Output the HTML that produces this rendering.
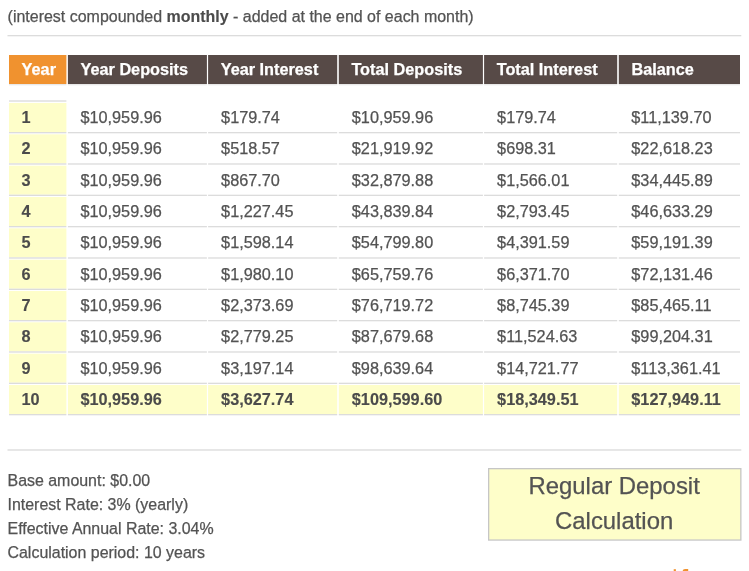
<!DOCTYPE html>
<html lang="en">
<head>
<meta charset="utf-8">
<title>Regular Deposit Calculation</title>
<style>
html,body{margin:0;padding:0;background:#fff;}
body{-webkit-text-stroke:0.25px;width:749px;height:571px;overflow:hidden;position:relative;font-family:"Liberation Sans",Arial,Helvetica,sans-serif;color:#535353;font-size:16px;}
svg.bg{position:absolute;left:0;top:0;width:749px;height:571px;display:block;}
.note{position:absolute;left:7.6px;top:7px;margin:0;font-size:15.98px;line-height:20px;white-space:nowrap;color:#535353;}
.note b{color:#4b4b4b;-webkit-text-stroke:0.12px;}
table,thead,tbody{display:block;margin:0;padding:0;border:0;}
table{position:absolute;left:0;top:0;width:749px;height:420px;font-size:16.27px;}
tr{display:block;position:absolute;left:0;width:749px;height:31px;}
th,td{display:block;position:absolute;top:0;box-sizing:border-box;padding:0 0 0 13px;text-align:left;white-space:nowrap;overflow:hidden;height:30.33px;line-height:29.33px;font-weight:normal;color:#535353;}
td.c2,td.c6{padding-left:12.5px;}
tr.head{top:55px;height:30px;}
tr.head th{color:#fff;font-weight:bold;height:30px;line-height:29px;padding-left:12.6px;}
tbody th{font-weight:bold;color:#4b4b4b;padding-left:12.4px;-webkit-text-stroke:0.12px;}
tr.last td{font-weight:bold;color:#4b4b4b;-webkit-text-stroke:0.12px;}
.info{position:absolute;left:7.5px;top:469px;font-size:15.95px;line-height:24px;color:#535353;}
.info div{white-space:nowrap;}
.box{position:absolute;left:487.4px;top:469px;width:253.5px;height:71px;text-align:center;font-size:23.9px;line-height:34.7px;color:#535353;box-sizing:border-box;padding-top:0;}
.c1{left:9px;width:57.4px;}
.c2{left:67.9px;width:139px;}
.c3{left:208.1px;width:129.1px;}
.c4{left:338.8px;width:144.1px;}
.c5{left:484.1px;width:133.1px;}
.c6{left:618.8px;width:121.2px;}
</style>
</head>
<body>
<svg class="bg" width="749" height="571" viewBox="0 0 749 571" aria-hidden="true">
<rect x="7.5" y="35" width="733.8" height="1.33" fill="#dcdcdc"/>
<rect x="7.5" y="449.3" width="733.8" height="1.37" fill="#dcdcdc"/>
<rect x="9" y="55" width="57.4" height="29" fill="#f0922f"/>
<rect x="9" y="84" width="57.4" height="1.33" fill="#e9e9e9"/>
<rect x="67.9" y="55" width="139" height="29" fill="#574a47"/>
<rect x="67.9" y="84" width="139" height="1.33" fill="#e9e9e9"/>
<rect x="208.1" y="55" width="129.1" height="29" fill="#574a47"/>
<rect x="208.1" y="84" width="129.1" height="1.33" fill="#e9e9e9"/>
<rect x="338.8" y="55" width="144.1" height="29" fill="#574a47"/>
<rect x="338.8" y="84" width="144.1" height="1.33" fill="#e9e9e9"/>
<rect x="484.1" y="55" width="133.1" height="29" fill="#574a47"/>
<rect x="484.1" y="84" width="133.1" height="1.33" fill="#e9e9e9"/>
<rect x="618.8" y="55" width="121.2" height="29" fill="#574a47"/>
<rect x="618.8" y="84" width="121.2" height="1.33" fill="#e9e9e9"/>
<rect x="9" y="100.33" width="57.4" height="1.34" fill="#dcdcdc"/>
<rect x="9" y="103" width="57.4" height="29" fill="#fefec9"/>
<rect x="9" y="132" width="57.4" height="1.33" fill="#dcdcdc"/>
<rect x="67.9" y="132" width="139" height="1.33" fill="#dcdcdc"/>
<rect x="208.1" y="132" width="129.1" height="1.33" fill="#dcdcdc"/>
<rect x="338.8" y="132" width="144.1" height="1.33" fill="#dcdcdc"/>
<rect x="484.1" y="132" width="133.1" height="1.33" fill="#dcdcdc"/>
<rect x="618.8" y="132" width="121.2" height="1.33" fill="#dcdcdc"/>
<rect x="9" y="134.33" width="57.4" height="29" fill="#fefec9"/>
<rect x="9" y="163.33" width="57.4" height="1.33" fill="#dcdcdc"/>
<rect x="67.9" y="163.33" width="139" height="1.33" fill="#dcdcdc"/>
<rect x="208.1" y="163.33" width="129.1" height="1.33" fill="#dcdcdc"/>
<rect x="338.8" y="163.33" width="144.1" height="1.33" fill="#dcdcdc"/>
<rect x="484.1" y="163.33" width="133.1" height="1.33" fill="#dcdcdc"/>
<rect x="618.8" y="163.33" width="121.2" height="1.33" fill="#dcdcdc"/>
<rect x="9" y="165.67" width="57.4" height="29" fill="#fefec9"/>
<rect x="9" y="194.67" width="57.4" height="1.33" fill="#dcdcdc"/>
<rect x="67.9" y="194.67" width="139" height="1.33" fill="#dcdcdc"/>
<rect x="208.1" y="194.67" width="129.1" height="1.33" fill="#dcdcdc"/>
<rect x="338.8" y="194.67" width="144.1" height="1.33" fill="#dcdcdc"/>
<rect x="484.1" y="194.67" width="133.1" height="1.33" fill="#dcdcdc"/>
<rect x="618.8" y="194.67" width="121.2" height="1.33" fill="#dcdcdc"/>
<rect x="9" y="197" width="57.4" height="29" fill="#fefec9"/>
<rect x="9" y="226" width="57.4" height="1.33" fill="#dcdcdc"/>
<rect x="67.9" y="226" width="139" height="1.33" fill="#dcdcdc"/>
<rect x="208.1" y="226" width="129.1" height="1.33" fill="#dcdcdc"/>
<rect x="338.8" y="226" width="144.1" height="1.33" fill="#dcdcdc"/>
<rect x="484.1" y="226" width="133.1" height="1.33" fill="#dcdcdc"/>
<rect x="618.8" y="226" width="121.2" height="1.33" fill="#dcdcdc"/>
<rect x="9" y="228.33" width="57.4" height="29" fill="#fefec9"/>
<rect x="9" y="257.33" width="57.4" height="1.33" fill="#dcdcdc"/>
<rect x="67.9" y="257.33" width="139" height="1.33" fill="#dcdcdc"/>
<rect x="208.1" y="257.33" width="129.1" height="1.33" fill="#dcdcdc"/>
<rect x="338.8" y="257.33" width="144.1" height="1.33" fill="#dcdcdc"/>
<rect x="484.1" y="257.33" width="133.1" height="1.33" fill="#dcdcdc"/>
<rect x="618.8" y="257.33" width="121.2" height="1.33" fill="#dcdcdc"/>
<rect x="9" y="259.67" width="57.4" height="29" fill="#fefec9"/>
<rect x="9" y="288.67" width="57.4" height="1.33" fill="#dcdcdc"/>
<rect x="67.9" y="288.67" width="139" height="1.33" fill="#dcdcdc"/>
<rect x="208.1" y="288.67" width="129.1" height="1.33" fill="#dcdcdc"/>
<rect x="338.8" y="288.67" width="144.1" height="1.33" fill="#dcdcdc"/>
<rect x="484.1" y="288.67" width="133.1" height="1.33" fill="#dcdcdc"/>
<rect x="618.8" y="288.67" width="121.2" height="1.33" fill="#dcdcdc"/>
<rect x="9" y="291" width="57.4" height="29" fill="#fefec9"/>
<rect x="9" y="320" width="57.4" height="1.33" fill="#dcdcdc"/>
<rect x="67.9" y="320" width="139" height="1.33" fill="#dcdcdc"/>
<rect x="208.1" y="320" width="129.1" height="1.33" fill="#dcdcdc"/>
<rect x="338.8" y="320" width="144.1" height="1.33" fill="#dcdcdc"/>
<rect x="484.1" y="320" width="133.1" height="1.33" fill="#dcdcdc"/>
<rect x="618.8" y="320" width="121.2" height="1.33" fill="#dcdcdc"/>
<rect x="9" y="322.33" width="57.4" height="29" fill="#fefec9"/>
<rect x="9" y="351.33" width="57.4" height="1.33" fill="#dcdcdc"/>
<rect x="67.9" y="351.33" width="139" height="1.33" fill="#dcdcdc"/>
<rect x="208.1" y="351.33" width="129.1" height="1.33" fill="#dcdcdc"/>
<rect x="338.8" y="351.33" width="144.1" height="1.33" fill="#dcdcdc"/>
<rect x="484.1" y="351.33" width="133.1" height="1.33" fill="#dcdcdc"/>
<rect x="618.8" y="351.33" width="121.2" height="1.33" fill="#dcdcdc"/>
<rect x="9" y="353.67" width="57.4" height="29" fill="#fefec9"/>
<rect x="9" y="382.67" width="57.4" height="1.33" fill="#dcdcdc"/>
<rect x="67.9" y="382.67" width="139" height="1.33" fill="#dcdcdc"/>
<rect x="208.1" y="382.67" width="129.1" height="1.33" fill="#dcdcdc"/>
<rect x="338.8" y="382.67" width="144.1" height="1.33" fill="#dcdcdc"/>
<rect x="484.1" y="382.67" width="133.1" height="1.33" fill="#dcdcdc"/>
<rect x="618.8" y="382.67" width="121.2" height="1.33" fill="#dcdcdc"/>
<rect x="9" y="385" width="57.4" height="29" fill="#fefec9"/>
<rect x="9" y="414" width="57.4" height="1.33" fill="#dcdcdc"/>
<rect x="67.9" y="385" width="139" height="29" fill="#fefec9"/>
<rect x="67.9" y="414" width="139" height="1.33" fill="#dcdcdc"/>
<rect x="208.1" y="385" width="129.1" height="29" fill="#fefec9"/>
<rect x="208.1" y="414" width="129.1" height="1.33" fill="#dcdcdc"/>
<rect x="338.8" y="385" width="144.1" height="29" fill="#fefec9"/>
<rect x="338.8" y="414" width="144.1" height="1.33" fill="#dcdcdc"/>
<rect x="484.1" y="385" width="133.1" height="29" fill="#fefec9"/>
<rect x="484.1" y="414" width="133.1" height="1.33" fill="#dcdcdc"/>
<rect x="618.8" y="385" width="121.2" height="29" fill="#fefec9"/>
<rect x="618.8" y="414" width="121.2" height="1.33" fill="#dcdcdc"/>
<rect x="488" y="468" width="253.5" height="72.7" fill="#c6c6c6"/>
<rect x="489.3" y="469.3" width="250.9" height="70.1" fill="#fefec9"/>
<rect x="673.7" y="569.2" width="2.2" height="2.8" fill="#f0922f"/>
<path d="M682.5 572v-0.6a2.6 2.6 0 0 1 2.6-2.4h3.1v3z" fill="#f0922f"/>
</svg>
<p class="note">(interest compounded <b>monthly</b> - added at the end of each month)</p>
<table>
<thead>
<tr class="head"><th class="c1">Year</th><th class="c2">Year Deposits</th><th class="c3">Year Interest</th><th class="c4">Total Deposits</th><th class="c5">Total Interest</th><th class="c6">Balance</th></tr>
</thead>
<tbody>
<tr style="top:103px"><th class="c1">1</th><td class="c2">$10,959.96</td><td class="c3">$179.74</td><td class="c4">$10,959.96</td><td class="c5">$179.74</td><td class="c6">$11,139.70</td></tr>
<tr style="top:134.33px"><th class="c1">2</th><td class="c2">$10,959.96</td><td class="c3">$518.57</td><td class="c4">$21,919.92</td><td class="c5">$698.31</td><td class="c6">$22,618.23</td></tr>
<tr style="top:165.67px"><th class="c1">3</th><td class="c2">$10,959.96</td><td class="c3">$867.70</td><td class="c4">$32,879.88</td><td class="c5">$1,566.01</td><td class="c6">$34,445.89</td></tr>
<tr style="top:197px"><th class="c1">4</th><td class="c2">$10,959.96</td><td class="c3">$1,227.45</td><td class="c4">$43,839.84</td><td class="c5">$2,793.45</td><td class="c6">$46,633.29</td></tr>
<tr style="top:228.33px"><th class="c1">5</th><td class="c2">$10,959.96</td><td class="c3">$1,598.14</td><td class="c4">$54,799.80</td><td class="c5">$4,391.59</td><td class="c6">$59,191.39</td></tr>
<tr style="top:259.67px"><th class="c1">6</th><td class="c2">$10,959.96</td><td class="c3">$1,980.10</td><td class="c4">$65,759.76</td><td class="c5">$6,371.70</td><td class="c6">$72,131.46</td></tr>
<tr style="top:291px"><th class="c1">7</th><td class="c2">$10,959.96</td><td class="c3">$2,373.69</td><td class="c4">$76,719.72</td><td class="c5">$8,745.39</td><td class="c6">$85,465.11</td></tr>
<tr style="top:322.33px"><th class="c1">8</th><td class="c2">$10,959.96</td><td class="c3">$2,779.25</td><td class="c4">$87,679.68</td><td class="c5">$11,524.63</td><td class="c6">$99,204.31</td></tr>
<tr style="top:353.67px"><th class="c1">9</th><td class="c2">$10,959.96</td><td class="c3">$3,197.14</td><td class="c4">$98,639.64</td><td class="c5">$14,721.77</td><td class="c6">$113,361.41</td></tr>
<tr class="last" style="top:385px"><th class="c1">10</th><td class="c2">$10,959.96</td><td class="c3">$3,627.74</td><td class="c4">$109,599.60</td><td class="c5">$18,349.51</td><td class="c6">$127,949.11</td></tr>
</tbody>
</table>
<div class="info">
<div>Base amount: $0.00</div>
<div>Interest Rate: 3% (yearly)</div>
<div>Effective Annual Rate: 3.04%</div>
<div>Calculation period: 10 years</div>
</div>
<div class="box">Regular Deposit<br>Calculation</div>

</body>
</html>
